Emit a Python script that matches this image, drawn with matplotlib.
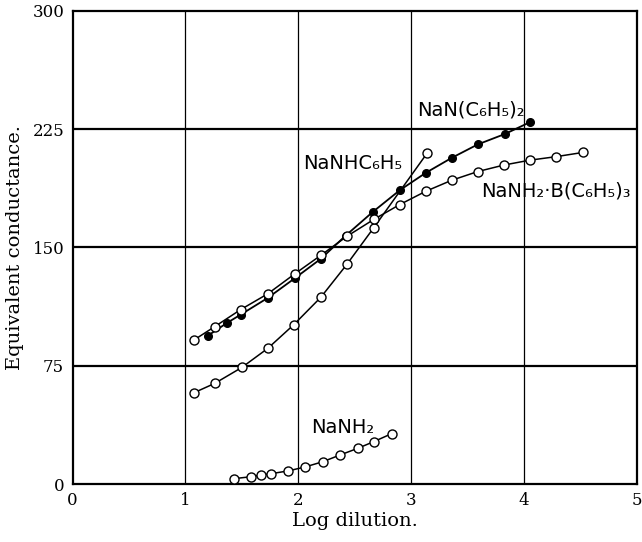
import matplotlib
matplotlib.use("Agg")
import matplotlib.pyplot as plt

# data
# NaN(C6H5)2 - filled circles
x_diph = [1.20, 1.37, 1.49, 1.73, 1.97, 2.20, 2.42, 2.66, 2.90, 3.13, 3.36, 3.59, 3.83, 4.05]
y_diph = [94.1, 102.2, 107.4, 118.0, 130.5, 142.8, 157.5, 172.5, 186.3, 197.3, 206.8, 215.3, 221.9, 229.3]

# NaNH2.B(C6H5)3 - open circles
x_bor = [1.08, 1.26, 1.49, 1.73, 1.97, 2.20, 2.43, 2.67, 2.90, 3.13, 3.36, 3.59, 3.82, 4.05, 4.28, 4.52]
y_bor = [91.5, 99.8, 110.6, 120.6, 133.3, 145.0, 157.0, 167.8, 177.2, 185.6, 192.6, 198.1, 202.2, 205.3, 207.5, 210.2]

# NaNHC6H5 - open circles
x_anil = [1.08, 1.26, 1.50, 1.73, 1.96, 2.20, 2.43, 2.67, 3.14]
y_anil = [58.0, 63.8, 73.9, 86.0, 101.0, 118.4, 139.2, 162.6, 209.6]

# NaNH2 - open circles
x_amide = [1.43, 1.58, 1.67, 1.755, 1.91, 2.06, 2.22, 2.37, 2.53, 2.67, 2.83]
y_amide = [3.4, 4.6, 5.7, 6.5, 8.3, 10.8, 14.2, 18.4, 22.7, 26.9, 32.0]

x_ticks = [0, 1, 2, 3, 4, 5]
y_ticks = [0, 75, 150, 225, 300]

fig = plt.figure(figsize=(6.42, 5.42), dpi=100)
ax = fig.add_axes([0.113, 0.107, 0.879, 0.873])

# grid: thin verticals, heavy horizontals
for xv in x_ticks[1:-1]:
    ax.axvline(xv, color='black', lw=0.9, zorder=1)
for yv in y_ticks[1:-1]:
    ax.axhline(yv, color='black', lw=1.6, zorder=1)

open_style = dict(color='black', lw=1.1, marker='o', ms=6.5, mfc='white',
                  mec='black', mew=1.0, zorder=3)
ax.plot(x_anil, y_anil, **open_style)
ax.plot(x_amide, y_amide, **open_style)
ax.plot(x_diph, y_diph, color='black', lw=1.3, marker='o', ms=5.5,
        mfc='black', mec='black', zorder=3)
ax.plot(x_bor, y_bor, **open_style)

# curve labels
lab = dict(fontsize=14, family='DejaVu Sans', va='center', ha='left')
ax.text(3.05, 237, 'NaN(C₆H₅)₂', **lab)
ax.text(2.04, 203, 'NaNHC₆H₅', **lab)
ax.text(3.62, 186, 'NaNH₂·B(C₆H₅)₃', **lab)
ax.text(2.11, 36, 'NaNH₂', **lab)

ax.set_xlim(0, 5)
ax.set_ylim(0, 300)
ax.set_xticks(x_ticks)
ax.set_yticks(y_ticks)
ax.tick_params(length=0, labelsize=12, pad=6)
for t in ax.get_xticklabels() + ax.get_yticklabels():
    t.set_family('DejaVu Serif')
for s in ax.spines.values():
    s.set_linewidth(1.6)

ax.set_xlabel('Log dilution.', fontsize=14, family='DejaVu Serif', labelpad=2)
ax.set_ylabel('Equivalent conductance.', fontsize=14, family='DejaVu Serif', labelpad=6)

fig.savefig('out.png', dpi=100)
